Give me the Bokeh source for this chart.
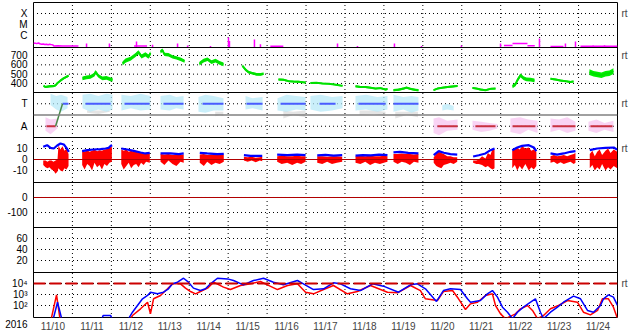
import numpy as np
from bokeh.plotting import figure
from bokeh.models import Range1d, FixedTicker, LinearAxis, Span
from bokeh.embed import file_html
from bokeh.resources import INLINE

FONT = "Liberation Sans"
FS = "10px"

# ---------------- data (time in hours since 2016-11-10 00:00) ----------------
day_labels = ["11/10", "11/11", "11/12", "11/13", "11/14", "11/15", "11/16", "11/17",
              "11/18", "11/19", "11/20", "11/21", "11/22", "11/23", "11/24"]
year_label = "2016"

# X-ray flux, log10(W/m2)
xray_t = [0, 1, 2, 3, 4, 5, 6, 7, 8, 9, 10, 11, 12, 12.4, 15, 18, 21, 24, 27.7]
xray_v = [-6.72, -6.69, -6.74, -6.68, -6.75, -6.79, -6.77, -6.82, -6.79, -6.84, -6.80,
          -6.83, -6.86, -6.95, -6.94, -6.96, -6.95, -6.96, -6.95]
xray_flat_t0 = [62, 146, 290, 295.3, 304.5, 318.7, 337.2]
xray_flat_t1 = [70, 154, 295.3, 304.5, 309, 326.7, 360]
xray_flat_v = [-6.95, -6.97, -6.90, -6.73, -6.92, -7.0, -6.97]
xray_spike_t = [32.7, 46.8, 63.5, 73.4, 88.8, 95, 109.1, 120.2, 120.8, 136.2, 139.9, 187.4,
                199.7, 222.5, 239.2, 263.8, 287.9, 311.9, 327.9, 334.1, 345, 352]
xray_spike_v = [-6.73, -6.73, -6.55, -6.85, -6.73, -6.9, -6.95, -6.18, -6.5, -6.36, -6.8,
                -6.73, -6.95, -6.73, -6.95, -6.9, -6.73, -6.27, -6.73, -6.55, -6.9, -6.88]

# Solar wind speed (km/s)
speed_t = [[6.2, 7.4, 9.8, 12.3, 13.6, 14.8, 16.6, 18.5, 20.3, 21.6],
           [30.2, 32.7, 35.1, 37.6, 38.2, 40.1, 42.5, 45.0, 47.5, 48.7],
           [54.9, 56.7, 59.8, 62.9, 64.7, 66.6, 69.0, 70.9, 72.1],
           [78.3, 79.5, 80.7, 83.2, 85.7, 88.1, 90.6, 93.1],
           [102.3, 104.8, 107.3, 109.7, 112.2, 114.7, 117.1],
           [128.8, 130.7, 132.5, 135.0, 137.5, 139.9, 141.8],
           [151.0, 154.1, 157.2, 160.3, 163.3, 166.4, 167.7],
           [170.7, 174.4, 178.1, 181.8, 185.5, 189.2, 190.5],
           [198.5, 201.6, 204.6, 207.7, 210.8, 213.9, 217.0, 218.2],
           [221.9, 225.0, 228.1, 229.9, 232.4, 235.5, 237.3],
           [246.6, 249.0, 252.1, 255.2, 258.3, 261.4],
           [270.6, 273.1, 275.5, 278.6, 281.7, 284.8],
           [295.3, 297.1, 298.3, 300.2, 302.0, 303.9, 306.4, 308.8],
           [318.7, 321.8, 324.8, 327.9, 331.0, 332.9],
           [342.7, 345.2, 347.7, 350.1, 352.6, 355.0, 357.5]]
speed_mid = [[375, 362, 370, 372, 380, 405, 430, 455, 470, 485],
             [455, 465, 470, 495, 525, 480, 455, 460, 445, 440],
             [615, 645, 665, 705, 735, 690, 712, 688, 725],
             [740, 758, 712, 708, 685, 675, 660, 640],
             [612, 645, 660, 630, 645, 622, 605],
             [590, 548, 522, 510, 498, 497, 505],
             [443, 440, 425, 420, 418, 412, 410],
             [404, 407, 400, 396, 388, 378, 375],
             [370, 362, 362, 355, 345, 350, 335, 340],
             [328, 333, 345, 355, 342, 330, 328],
             [328, 345, 355, 362, 368, 374],
             [352, 345, 335, 328, 342, 345],
             [368, 390, 435, 488, 458, 445, 440, 432],
             [450, 443, 432, 425, 416, 422],
             [522, 505, 497, 488, 505, 510, 532]]
speed_spread = [12, 20, 22, 18, 20, 14, 10, 8, 10, 12, 10, 10, 20, 10, 30]

# IMF sector (T = +1, A = -1)
toward_t = [[10.5, 14, 17, 21], [30.2, 35, 40, 45, 48.7], [54.2, 60, 66, 72.1],
            [78.3, 84, 88, 92.5], [101.7, 106, 111, 117.1], [130.7, 135, 141.2],
            [150.4, 156, 162, 167.7], [170.7, 177, 184, 190.5], [198.5, 205, 212, 218.2],
            [221.9, 228, 233, 237.3], [252, 255, 259]]
toward_lo = [[0.9, 0.5, 0.3, 0.6], [0.6, 0.3, 0.5, 0.3, 0.5], [0.4, 0.6, 0.4, 0.5],
             [0.5, 0.4, 0.6, 0.5], [0.3, 0.2, 0.4, 0.4], [0.5, 0.6, 0.4],
             [0.4, 0.3, 0.5, 0.4], [0.5, 0.3, 0.4, 0.6], [0.4, 0.5, 0.3, 0.5],
             [0.3, 0.5, 0.2, 0.4], [0.4, 0.5, 0.4]]
toward_hi = [[1.9, 1.7, 1.8, 1.6], [1.8, 1.9, 1.7, 1.9, 1.8], [1.8, 1.7, 1.9, 1.7],
             [1.7, 1.8, 1.6, 1.7], [1.6, 1.8, 1.7, 1.5], [1.7, 1.5, 1.6],
             [1.5, 1.8, 1.7, 1.6], [1.7, 1.8, 1.6, 1.7], [1.7, 1.8, 1.6, 1.7],
             [1.8, 1.6, 1.7, 1.6], [0.9, 1.0, 0.8]]
gray_t = [[33, 40, 47], [112, 115, 117], [154, 160, 167.7], [201, 210, 217], [223, 230, 237]]
gray_lo = [[0.2, 0.1, 0.3], [-0.1, 0.0, -0.1], [-0.3, 0.0, -0.2], [0.0, 0.1, -0.1], [-0.3, 0.0, -0.2]]
gray_hi = [[0.4, 0.4, 0.4], [0.3, 0.3, 0.3], [0.4, 0.3, 0.4], [0.4, 0.4, 0.3], [0.3, 0.3, 0.3]]
away_t = [[7.4, 10.5, 14.8], [246.6, 250, 255, 261.4], [270.6, 276, 281, 286],
          [294, 300, 305, 310.7], [318.7, 324, 329, 334.1], [342.1, 347, 352, 357.5]]
away_lo = [[-1.4, -1.7, -1.2], [-1.6, -1.8, -1.4, -1.3], [-1.3, -1.5, -1.4, -1.2],
           [-1.5, -1.7, -1.3, -1.6], [-1.5, -1.3, -1.6, -1.4], [-1.4, -1.6, -1.3, -1.5]]
away_hi = [[-0.2, -0.4, -0.3], [-0.3, -0.2, -0.5, -0.4], [-0.5, -0.6, -0.7, -0.8],
           [-0.3, -0.2, -0.4, -0.5], [-0.3, -0.4, -0.2, -0.6], [-0.6, -0.4, -0.7, -0.5]]
sector_T_t0 = [17.9, 32.1, 56.1, 80.1, 104.2, 131.3, 152.3, 176.3, 200.3, 221.9]
sector_T_t1 = [21.6, 47.5, 71.5, 92.5, 117.1, 141.2, 167.7, 186.2, 217.0, 237.3]
sector_A_t0 = [8.0, 249.0, 272.4, 295.3, 319.9, 343.3]
sector_A_t1 = [13.6, 261.4, 284.8, 309.4, 334.1, 356.9]
sector_turn_t = [13.6, 17.9]
sector_turn_v = [-1, 1]

# IMF Bt (nT)
bt_t = [[6.0, 8.4, 10.5, 12.5, 14.6, 16.6, 18.7, 20.3, 21.8],
        [30.0, 33.1, 37.2, 41.3, 44.4, 46.4, 47.5, 48.5],
        [54.1, 57.8, 61.8, 66.0, 69.0, 71.7],
        [78.3, 84.4, 89.6, 92.6],
        [102.5, 107.1, 113.2, 117.3],
        [129.7, 133.8, 141.0],
        [150.2, 156.4, 162.5, 167.7],
        [174.9, 180, 185, 190.3],
        [198.5, 203, 208, 213, 218.2],
        [221.9, 226, 231, 237.3],
        [246.7, 249.8, 252.9, 257, 261.2],
        [271, 274.5, 278.6, 281.7, 284.2],
        [295.1, 298.2, 301.2, 305.3, 308.4, 310],
        [318.7, 322.8, 326.9, 331, 334.1],
        [342.9, 347.5, 352.6, 357.7, 359.8]]
bt_v = [[11.5, 13, 10.6, 10, 12.7, 14.5, 13.6, 10.6, 7],
        [7.6, 8.5, 9.1, 9.4, 10, 10.6, 12.4, 13],
        [10, 9.1, 7.9, 6.4, 5.5, 6.1],
        [5.5, 5.5, 4.9, 5.5],
        [6.1, 5.5, 4.9, 5.2],
        [3.9, 3.3, 3.3],
        [4.5, 3.9, 4.5, 3.9],
        [3.8, 4.2, 3.6, 4.0],
        [3.5, 4.0, 3.8, 4.5, 3.9],
        [6.5, 7, 6, 5.5],
        [3.9, 7.6, 6.1, 4.9, 4.5],
        [2.7, 3.9, 5.5, 8.5, 10],
        [8.5, 10.9, 12.4, 13, 10.9, 7.6],
        [5.5, 4.5, 5.5, 7, 7.6],
        [8.5, 10, 10.6, 10.9, 9]]
# IMF Bz envelope (nT)
bz_t = [[6.0, 7.4, 8.6, 9.8, 11.1, 12.3, 13.6, 14.8, 15.4, 16.6, 17.9, 19.1, 20.3, 21.6],
        [30.0, 31.5, 33.1, 34.6, 36.1, 37.6, 39.2, 40.7, 42.2, 43.7, 45.3, 46.8, 48.3],
        [54.1, 55.6, 57.2, 58.7, 60.2, 61.8, 63.3, 64.8, 66.3, 67.9, 69.4, 71.7],
        [78.3, 80.7, 83.2, 85.7, 88.1, 90.6, 92.6],
        [102.5, 105, 107.1, 109.7, 112.2, 114.7, 117.3],
        [129.7, 132, 134.5, 137, 139.5, 141.0],
        [150.2, 153, 156.4, 159.5, 162.5, 165, 167.7],
        [174.9, 178, 181, 184, 187, 190.3],
        [198.5, 201.5, 204.5, 207.5, 210.5, 213.5, 216, 218.2],
        [221.9, 224.5, 227, 229.5, 232, 234.5, 237.3],
        [246.7, 248.3, 249.8, 251.4, 252.9, 255, 257, 259, 261.2],
        [271, 273, 274.5, 276.5, 278.6, 280.1, 281.7, 283, 284.2],
        [295.1, 296.7, 298.2, 299.7, 301.2, 303.2, 305.3, 306.9, 308.4, 310],
        [318.7, 320.8, 322.8, 324.9, 326.9, 329, 331, 333, 334.1],
        [342.9, 344.5, 346, 347.5, 349, 350.5, 352.6, 354.2, 355.7, 357.7, 359.8]]
bz_lo = [[-5, -7, -8, -7, -9, -10, -13, -11, -8, -10, -11, -8, -9, -6],
         [-5, -9, -4, -6, -10, -3, -7, -5, -9, -4, -6, -3, -2],
         [-4, -9, -6, -3, -8, -5, -4, -7, -3, -5, -2, -3],
         [-2, -5, -1, -4, -6, -2, -3],
         [-3, -6, -2, -5, -3, -4, -2],
         [-1, -2, -1, -2.5, -1, -1.5],
         [-2, -4, -3, -5, -3, -4, -2],
         [-3, -4, -2, -4, -3, -2],
         [-3, -4, -2, -5, -3, -4, -3, -2],
         [-2, -4, -2, -3, -5, -2, -3],
         [-3, -6, -7, -8, -5, -4, -3, -4, -2],
         [-3, -4, -4, -5, -7, -6, -8, -9, -8],
         [-8, -5, -10, -6, -9, -4, -10, -7, -9, -6],
         [-3, -2, -4, -2.5, -4, -3, -2, -4, -3],
         [-8, -5, -10, -7, -9, -4, -10, -7, -9, -6, -8]]
bz_hi = [[-1, -1, -2, -1, -1, -2, -1, 0, 13, 9, 12, 8, 10, 5],
         [8, 7, 8.5, 7, 8, 9, 7.5, 8.5, 8, 9, 9.5, 11, 12],
         [9, 8, 9, 7, 8, 7, 7.5, 6, 6.5, 5.5, 6, 5],
         [5, 4.5, 5, 4, 4.5, 4, 4.5],
         [4.5, 5, 4, 4.5, 4, 4, 4],
         [2.5, 2, 2.5, 1.5, 2, 2.5],
         [3, 3.5, 3, 3, 3.5, 3, 3],
         [3, 3, 2.5, 3, 3, 2.5],
         [3, 3.5, 3, 3.5, 3, 3, 3.5, 3],
         [5, 5, 5.5, 5, 5, 4.5, 5],
         [2, 5, 7, 6, 5, 3, 3, 2, 2],
         [-1, -1, 0, 3, 1, 6, 4, 10, 9],
         [8, 10, 11, 9, 12, 10, 11, 8, 9, 7],
         [3, 4, 3, 3.5, 4, 3, 4, 5, 6],
         [5, 8, 3, 7, 9, 4, 8, 10, 6, 9, 7]]

# Dst (nT)
dst_t = [0, 360]
dst_v = [0, 0]

# Electron flux, log10
elec_blue_t = [0, 11.7, 14.8, 17.9, 41.3, 43, 47.5, 49.3,
               58.6, 61.0, 64.1, 67.2, 70.3, 72.1, 76.4, 80.1, 83.2, 85.7, 88.8, 92.5, 95.5,
               98.6, 102.9, 106.0, 109.1, 113.4, 119.6, 123.3, 129.4, 135.6, 141.8, 147.9,
               154.1, 162.7, 166.4, 172.6, 178.8, 184.9, 189.2, 195.4, 201.6, 209.0, 215.7,
               225.0, 232.4, 236.7, 241.6, 248.4, 252.7, 257.0, 263.2, 267.5, 269.4, 275.5,
               279.8, 282.9, 286.0, 289.1, 292.2, 295.3, 298.3, 302.0, 306.4, 309.4, 312.5,
               314.4, 318.7, 323.0, 326.7, 332.9, 337.2, 341.5, 345.2, 349.5, 351.4, 354.4,
               357.5, 360]
elec_blue_v = [0.5, 0.5, 2.30, 0.5, 0.5, 1.1, 1.1, 0.5,
               0.8, 1.39, 2.0, 2.61, 2.91, 3.21, 3.06, 3.21, 3.52, 3.97, 4.12, 4.48, 4.12,
               3.58, 3.36, 3.52, 3.97, 4.48, 4.42, 4.27, 3.88, 4.27, 4.48, 4.12,
               3.88, 4.27, 3.97, 3.45, 3.52, 4.06, 3.97, 3.52, 3.36, 3.97, 3.76,
               3.21, 3.88, 3.97, 3.52, 2.37, 3.36, 3.52, 3.45, 2.61, 2.30, 2.45,
               3.06, 3.36, 2.76, 1.85, 1.39, 0.8, 1.39, 1.85, 2.30, 2.61, 1.39,
               0.8, 1.39, 1.85, 2.30, 2.85, 2.61, 1.55, 1.39, 2.0, 2.61, 2.97,
               2.76, 2.0]
elec_red_t = [0, 10.5, 14.2, 16.6, 59.8, 61.0, 66.0, 70.3, 72.1, 74.0, 78.3, 82.6, 85.7,
              90.6, 93.7, 96.8, 99.9, 102.9, 107.3, 111.0, 117.1, 121.4, 127.6, 133.8,
              139.9, 144.2, 150.4, 156.6, 162.7, 167.7, 172.6, 178.8, 184.9, 193.5, 199.7,
              207.7, 218.2, 224.4, 232.4, 238.5, 241.6, 249.0, 252.7, 258.3, 262.0, 266.3,
              269.4, 273.7, 278.6, 282.9, 284.8, 287.9, 290.9, 297.1, 300.2, 304.5, 307.6,
              310.7, 314.4, 318.7, 323.6, 329.2, 335.3, 339.0, 343.3, 347.7, 350.7, 354.4,
              357.5, 360]
elec_red_v = [0.5, 0.5, 2.97, 0.5, 0.8, 1.09, 1.70, 2.30, 1.24, 2.61, 2.91, 3.52, 3.97,
              3.97, 3.58, 3.27, 3.06, 3.27, 3.58, 4.12, 3.67, 3.45, 3.82, 3.97,
              4.18, 3.88, 3.45, 3.82, 3.97, 3.21, 3.06, 3.45, 3.82, 3.06, 3.27,
              3.82, 3.21, 3.15, 3.82, 3.36, 2.61, 2.45, 3.27, 3.36, 2.61, 1.64,
              2.15, 2.30, 2.91, 3.06, 2.0, 1.24, 0.8, 1.24, 1.70, 2.0, 1.55,
              0.8, 1.09, 1.70, 2.0, 2.45, 2.30, 1.39, 1.15, 1.55, 2.61, 2.61,
              1.85, 0.8]
elec_threshold = 4

# panel value ranges, ticks and labels (top to bottom)
panel_names = ["xray", "speed", "sector", "imf", "dst", "p6", "elec"]
panel_ranges = [(-7.09, -3.0), (303, 786), (-2, 2), (-20.9, 20), (-200, 100), (-1.8, 80), (0.91, 5.0)]
panel_ticks = [[-6, -5, -4], [400, 500, 600, 700], [-1, 1], [-10, 0, 10], [-100, 0],
               [20, 40, 60], [2, 3, 4]]
panel_labels = [["C", "M", "X"], ["400", "500", "600", "700"], ["A", "T"], ["-10", "0", "10"],
                ["-100", "0"], ["20", "40", "60"], ["10²", "10³", "10⁴"]]
panel_rt = [-4, 700, 1, 10, None, None, 4]

# ---------------- figure ----------------
NP = len(panel_names)
x_range = Range1d(0, 360)
day_edges = [24 * i for i in range(1, 15)]
day_mids = [12 + 24 * i for i in range(15)]

p = figure(width=633, height=334, x_range=x_range, y_range=Range1d(0, NP),
           output_backend="svg", toolbar_location=None, title=None,
           min_border=0, min_border_left=33, min_border_right=16,
           min_border_top=2, min_border_bottom=17)
p.outline_line_color = "black"
p.outline_line_width = 1
p.background_fill_color = "white"
p.border_fill_color = "white"
p.xgrid.visible = False
p.ygrid.visible = False


def to_main(k, v):
    lo, hi = panel_ranges[k]
    return round((NP - 1 - k) + (v - lo) / (hi - lo), 6)


for k, name in enumerate(panel_names):
    lo, hi = panel_ranges[k]
    span = hi - lo
    p.extra_y_ranges[name] = Range1d(lo - (NP - 1 - k) * span, lo + (k + 1) * span)

main_ticks, main_labels = [], []
for k in range(NP):
    for v, lab in zip(panel_ticks[k], panel_labels[k]):
        main_ticks.append(to_main(k, v))
        main_labels.append(lab)

# dotted grid (vertical day boundaries, horizontal tick levels)
p.segment(x0=day_edges, y0=[0] * len(day_edges), x1=day_edges, y1=[NP] * len(day_edges),
          line_color="black", line_width=1, line_dash="0 4", line_cap="square")
p.segment(x0=[0] * len(main_ticks), y0=main_ticks, x1=[360] * len(main_ticks), y1=main_ticks,
          line_color="black", line_width=1, line_dash="0 4", line_cap="square")

# left axis (year label shares the bottom tick, on a second text line)
left_ticks = main_ticks + [0.0]
left_labels = main_labels + ["\n" + year_label]
ya = p.yaxis[0]
ya.ticker = FixedTicker(ticks=left_ticks)
ya.major_label_overrides = dict(zip(left_ticks, left_labels))
ya.axis_line_color = None
ya.major_tick_in = 0
ya.major_tick_out = 0
ya.minor_tick_line_color = None
ya.major_label_standoff = 6
ya.major_label_text_font = FONT
ya.major_label_text_font_size = FS
ya.major_label_text_color = "black"

# right "rt" axis
rt_ticks = [to_main(k, v) for k, v in enumerate(panel_rt) if v is not None]
ra = LinearAxis(ticker=FixedTicker(ticks=rt_ticks),
                major_label_overrides={t: "rt" for t in rt_ticks})
ra.axis_line_color = None
ra.major_tick_in = 0
ra.major_tick_out = 0
ra.minor_tick_line_color = None
ra.major_label_standoff = 4
ra.major_label_text_font = FONT
ra.major_label_text_font_size = FS
p.add_layout(ra, "right")

# bottom axis
xa = p.xaxis[0]
xa.ticker = FixedTicker(ticks=day_mids)
xa.major_label_overrides = dict(zip(day_mids, day_labels))
xa.axis_line_color = None
xa.major_tick_in = 0
xa.major_tick_out = 0
xa.minor_tick_line_color = None
xa.major_label_standoff = 3
xa.major_label_text_font = FONT
xa.major_label_text_font_size = FS

# Panel 1: X-ray
p.line(xray_t, xray_v, line_color="#ff00ff", line_width=1.5, y_range_name="xray")
p.segment(x0=xray_flat_t0, y0=xray_flat_v, x1=xray_flat_t1, y1=xray_flat_v,
          line_color="#ff00ff", line_width=1.5, y_range_name="xray")
p.segment(x0=xray_spike_t, y0=[panel_ranges[0][0]] * len(xray_spike_t), x1=xray_spike_t,
          y1=xray_spike_v, line_color="#ff00ff", line_width=1.5, y_range_name="xray")

# Panel 2: speed
for t, m, s in zip(speed_t, speed_mid, speed_spread):
    m = np.array(m, dtype=float)
    p.varea(x=t, y1=m - s, y2=m + s, fill_color="#00f000", y_range_name="speed")
    p.line(t, m, line_color="#00e000", line_width=2, y_range_name="speed")

# Panel 3: sector
for t, lo, hi in zip(gray_t, gray_lo, gray_hi):
    p.varea(x=t, y1=lo, y2=hi, fill_color="#d8d8d8", fill_alpha=0.7, y_range_name="sector")
for t, lo, hi in zip(toward_t, toward_lo, toward_hi):
    p.varea(x=t, y1=lo, y2=hi, fill_color="#b4e8f8", fill_alpha=0.7, y_range_name="sector")
for t, lo, hi in zip(away_t, away_lo, away_hi):
    p.varea(x=t, y1=lo, y2=hi, fill_color="#f6c0f0", fill_alpha=0.7, y_range_name="sector")
p.add_layout(Span(location=0, dimension="width", line_color="#808080", line_width=1.5,
                  y_range_name="sector"))
p.segment(x0=sector_T_t0, y0=[1] * len(sector_T_t0), x1=sector_T_t1, y1=[1] * len(sector_T_t1),
          line_color="#4a5cff", line_width=2, y_range_name="sector")
p.segment(x0=sector_A_t0, y0=[-1] * len(sector_A_t0), x1=sector_A_t1, y1=[-1] * len(sector_A_t1),
          line_color="#c83040", line_width=2, y_range_name="sector")
p.line(sector_turn_t, sector_turn_v, line_color="#4a8a4a", line_width=1.5, y_range_name="sector")

# Panel 4: IMF
for t, lo, hi in zip(bz_t, bz_lo, bz_hi):
    p.varea(x=t, y1=lo, y2=hi, fill_color="#ff0000", y_range_name="imf")
p.add_layout(Span(location=0, dimension="width", line_color="#b00000", line_width=1.2,
                  y_range_name="imf"))
for t, v in zip(bt_t, bt_v):
    p.line(t, v, line_color="#0000ff", line_width=2.2, y_range_name="imf")

# Panel 5: Dst
p.line(dst_t, dst_v, line_color="#b00000", line_width=1.2, y_range_name="dst")

# Panel 7: electrons
p.add_layout(Span(location=elec_threshold, dimension="width", line_color="#cc0000",
                  line_width=2, line_dash="12 4", y_range_name="elec"))
p.line(elec_red_t, elec_red_v, line_color="#ff0000", line_width=1.5, y_range_name="elec")
p.line(elec_blue_t, elec_blue_v, line_color="#0000ff", line_width=1.5, y_range_name="elec")

# panel separators
for k in range(1, NP):
    p.add_layout(Span(location=k, dimension="width", line_color="black", line_width=1))

open("out.html", "w").write(file_html(p, INLINE))
